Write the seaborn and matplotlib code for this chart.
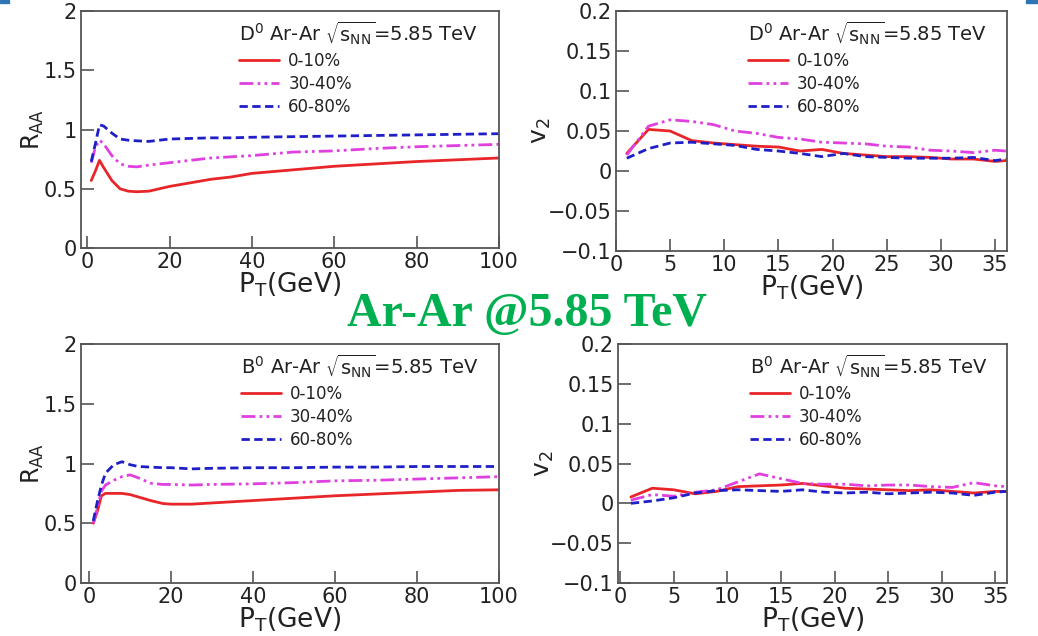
import numpy as np
import pandas as pd
import matplotlib
matplotlib.use("Agg")
import matplotlib.pyplot as plt
import seaborn as sns
from matplotlib.patches import Rectangle

# ---------------- data ----------------
centralities = ["0-10%", "30-40%", "60-80%"]

# D0 R_AA (top-left)
d_raa_pt = [1, 2, 3, 4, 6, 8, 10, 12, 15, 20, 25, 30, 35, 40, 50, 60, 70, 80, 90, 100]
d_raa_0_10 = [0.57, 0.65, 0.74, 0.68, 0.57, 0.50, 0.48, 0.475, 0.48, 0.52, 0.55, 0.58, 0.60, 0.63, 0.66, 0.69, 0.71, 0.73, 0.745, 0.76]
d_raa_30_40 = [0.72, 0.85, 0.91, 0.88, 0.78, 0.71, 0.69, 0.685, 0.70, 0.72, 0.74, 0.76, 0.77, 0.78, 0.81, 0.82, 0.84, 0.855, 0.865, 0.875]
d_raa_60_80 = [0.73, 0.88, 1.04, 1.03, 0.97, 0.92, 0.91, 0.905, 0.90, 0.92, 0.925, 0.93, 0.93, 0.935, 0.94, 0.945, 0.95, 0.955, 0.96, 0.965]

# D0 v2 (top-right)
d_v2_pt = [1, 3, 5, 7, 9, 11, 13, 15, 17, 19, 21, 23, 25, 27, 29, 31, 33, 35, 36]
d_v2_0_10 = [0.022, 0.052, 0.050, 0.038, 0.035, 0.033, 0.031, 0.030, 0.025, 0.027, 0.022, 0.020, 0.018, 0.018, 0.017, 0.015, 0.015, 0.012, 0.013]
d_v2_30_40 = [0.020, 0.056, 0.064, 0.062, 0.058, 0.050, 0.047, 0.042, 0.040, 0.036, 0.035, 0.034, 0.031, 0.030, 0.026, 0.025, 0.023, 0.026, 0.025]
d_v2_60_80 = [0.016, 0.028, 0.035, 0.036, 0.034, 0.032, 0.027, 0.025, 0.022, 0.018, 0.022, 0.018, 0.017, 0.016, 0.016, 0.016, 0.017, 0.013, 0.015]

# B0 R_AA (bottom-left)
b_raa_pt = [1, 2, 3, 4, 6, 8, 10, 12, 15, 18, 20, 25, 30, 40, 50, 60, 70, 80, 90, 100]
b_raa_0_10 = [0.50, 0.60, 0.73, 0.75, 0.75, 0.75, 0.74, 0.72, 0.69, 0.665, 0.66, 0.66, 0.67, 0.69, 0.71, 0.73, 0.745, 0.76, 0.775, 0.78]
b_raa_30_40 = [0.50, 0.63, 0.77, 0.82, 0.86, 0.89, 0.905, 0.88, 0.835, 0.825, 0.825, 0.82, 0.825, 0.83, 0.84, 0.855, 0.86, 0.87, 0.88, 0.89]
b_raa_60_80 = [0.52, 0.68, 0.82, 0.92, 0.99, 1.015, 0.99, 0.975, 0.97, 0.965, 0.965, 0.955, 0.96, 0.965, 0.965, 0.97, 0.97, 0.975, 0.975, 0.975]

# B0 v2 (bottom-right)
b_v2_pt = [1, 3, 5, 7, 9, 11, 13, 15, 17, 19, 21, 23, 25, 27, 29, 31, 33, 35, 36]
b_v2_0_10 = [0.008, 0.019, 0.017, 0.012, 0.015, 0.021, 0.022, 0.023, 0.025, 0.022, 0.019, 0.018, 0.017, 0.016, 0.017, 0.015, 0.013, 0.015, 0.015]
b_v2_30_40 = [0.004, 0.011, 0.009, 0.014, 0.017, 0.027, 0.037, 0.031, 0.025, 0.024, 0.024, 0.022, 0.023, 0.023, 0.021, 0.020, 0.026, 0.022, 0.021]
b_v2_60_80 = [0.000, 0.003, 0.007, 0.013, 0.016, 0.017, 0.016, 0.015, 0.017, 0.014, 0.013, 0.014, 0.012, 0.013, 0.014, 0.013, 0.010, 0.014, 0.015]

headers = [r"D$^0$ Ar-Ar $\sqrt{\mathrm{s}_{\mathrm{NN}}}$=5.85 TeV",
           r"B$^0$ Ar-Ar $\sqrt{\mathrm{s}_{\mathrm{NN}}}$=5.85 TeV"]
main_title = "Ar-Ar @5.85 TeV"


def long_df(pt, series):
    rows = []
    for name, vals in zip(centralities, series):
        for x, y in zip(pt, vals):
            rows.append((x, y, name))
    return pd.DataFrame(rows, columns=["pt", "val", "cent"])


panels = [
    dict(df=long_df(d_raa_pt, [d_raa_0_10, d_raa_30_40, d_raa_60_80]), kind="raa", header=headers[0],
         pos=[0.078, 0.610, 0.4027, 0.3726], xlim=(-1.5, 100)),
    dict(df=long_df(d_v2_pt, [d_v2_0_10, d_v2_30_40, d_v2_60_80]), kind="v2", header=headers[0],
         pos=[0.5934, 0.6053, 0.3767, 0.3774], xlim=(0, 36.1)),
    dict(df=long_df(b_raa_pt, [b_raa_0_10, b_raa_30_40, b_raa_60_80]), kind="raa", header=headers[1],
         pos=[0.078, 0.0833, 0.4027, 0.3758], xlim=(-2, 100)),
    dict(df=long_df(b_v2_pt, [b_v2_0_10, b_v2_30_40, b_v2_60_80]), kind="v2", header=headers[1],
         pos=[0.5954, 0.0833, 0.3748, 0.3758], xlim=(-0.2, 36.1)),
]

# ---------------- style ----------------
sns.set_theme(style="ticks")
plt.rcParams["font.family"] = ["DejaVu Sans"]
plt.rcParams["mathtext.fontset"] = "dejavusans"
plt.rcParams["mathtext.default"] = "regular"
spine_color = "#555555"
text_color = "#222222"
plt.rcParams.update({
    "xtick.bottom": True, "ytick.left": True,
    "xtick.top": False, "ytick.right": False,
    "xtick.direction": "in", "ytick.direction": "in",
    "xtick.major.size": 9, "ytick.major.size": 9,
    "xtick.major.width": 1.2, "ytick.major.width": 1.2,
    "xtick.color": spine_color, "ytick.color": spine_color,
    "xtick.labelcolor": text_color, "ytick.labelcolor": text_color,
    "xtick.labelsize": 15, "ytick.labelsize": 15,
    "xtick.major.pad": 3, "ytick.major.pad": 3,
})

palette = {"0-10%": "#e8262a", "30-40%": "#e040e0", "60-80%": "#1f1fc8"}
dashes = {"0-10%": "", "30-40%": (5, 1.5, 1, 1.5, 1, 1.5), "60-80%": (3, 1.6)}

fig = plt.figure(figsize=(10.38, 6.36), dpi=100)

for p in panels:
    ax = fig.add_axes(p["pos"])
    sns.lineplot(data=p["df"], x="pt", y="val", hue="cent", style="cent",
                 palette=palette, dashes=dashes, linewidth=2.0, ax=ax,
                 hue_order=centralities, style_order=centralities)
    ax.set_xlim(*p["xlim"])
    if p["kind"] == "raa":
        ax.set_ylim(0, 2)
        ax.set_yticks([0, 0.5, 1, 1.5, 2])
        ax.set_yticklabels(["0", "0.5", "1", "1.5", "2"])
        ax.set_xticks([0, 20, 40, 60, 80, 100])
        ax.set_ylabel(r"R$_{\mathrm{AA}}$", fontsize=17, labelpad=-2, color=text_color)
    else:
        ax.set_ylim(-0.1, 0.2)
        ax.set_yticks([-0.1, -0.05, 0, 0.05, 0.1, 0.15, 0.2])
        ax.set_yticklabels(["\u22120.1", "\u22120.05", "0", "0.05", "0.1", "0.15", "0.2"])
        ax.set_xticks([0, 5, 10, 15, 20, 25, 30, 35])
        ax.set_ylabel(r"v$_{\mathrm{2}}$", fontsize=18, labelpad=-4, color=text_color)
    ax.set_xlabel(r"P$_{\mathrm{T}}$(GeV)", fontsize=19, labelpad=-1, color=text_color)
    ax.minorticks_off()
    ax.tick_params(axis="both", which="major", direction="in", length=9, width=1.2,
                   color=spine_color, labelsize=15, labelcolor=text_color, pad=3,
                   bottom=True, left=True, top=False, right=False)
    for s in ax.spines.values():
        s.set_visible(True)
        s.set_color(spine_color)
        s.set_linewidth(1.3)
    leg = ax.legend(title=p["header"], loc="upper right", frameon=False, fontsize=12,
                    title_fontsize=14, handlelength=2.4, handletextpad=0.55,
                    labelspacing=0.3, borderaxespad=0.1, bbox_to_anchor=(0.97, 1.0))
    leg._legend_box.align = "left"
    for t in leg.get_texts():
        t.set_color(text_color)
    leg.get_title().set_color(text_color)
    for h in leg.get_lines():
        h.set_linewidth(2.0)

fig.text(0.508, 0.4874, main_title, color="#00b050", fontsize=34.5, fontweight="bold",
         family=["Liberation Serif", "DejaVu Serif"], ha="center", va="baseline")

# small blue corner marks
fig.patches.append(Rectangle((0, 1 - 3 / 636), 9 / 1038, 3 / 636, transform=fig.transFigure,
                             color="#2e75b6", zorder=5))
fig.patches.append(Rectangle((1026 / 1038, 1 - 3 / 636), 12 / 1038, 3 / 636, transform=fig.transFigure,
                             color="#2e75b6", zorder=5))

fig.savefig("out.png", dpi=100)
